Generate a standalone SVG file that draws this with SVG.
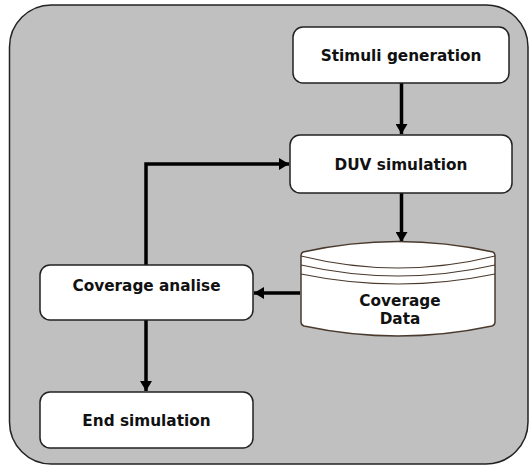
<svg xmlns="http://www.w3.org/2000/svg" width="529" height="466" viewBox="0 0 529 466">
<defs>
<marker id="ah" markerUnits="userSpaceOnUse" markerWidth="14" markerHeight="12" viewBox="0 0 12 12" refX="10" refY="6" orient="auto">
<path d="M0,0 L10,6 L0,12 Z" fill="#000"/>
</marker>
<style>
.box{fill:#fff;stroke:#222;stroke-width:1.5}
.t{font-family:"DejaVu Sans",Verdana,sans-serif;font-weight:bold;font-size:15.3px;fill:#111;text-anchor:middle}
.c{fill:none;stroke:#000;stroke-width:3.5;marker-end:url(#ah)}
.cyl{fill:#fff;stroke:#4a3a2e;stroke-width:1.5}
.cl{fill:none;stroke:#4a3a2e;stroke-width:1.2}
</style>
</defs>
<rect x="9.5" y="5" width="518.5" height="459" rx="42" ry="42" fill="#c0c0c0" stroke="#222" stroke-width="1.5"/>
<g id="connectors">
<path class="c" d="M401.5,83 V134"/>
<path class="c" d="M401.5,193 V242"/>
<path class="c" d="M300,293 H254"/>
<path class="c" d="M146,265 V164 H289"/>
<path class="c" d="M146,320 V391"/>
</g>
<g id="stimuli">
<rect class="box" x="293" y="27" width="216" height="56" rx="10"/>
<text class="t" x="401" y="60.5">Stimuli generation</text>
</g>
<g id="duv">
<rect class="box" x="290" y="135" width="222" height="58" rx="10"/>
<text class="t" x="401" y="169.5">DUV simulation</text>
</g>
<g id="coverage-data">
<path class="cyl" d="M301,256 Q301,253 303,252 Q398,231 493,252 Q495,253 495,256 V322 Q495,325 492,326 Q398,346 304,326 Q301,325 301,322 Z"/>
<path class="cl" d="M301,256 Q398,280 495,256"/>
<path class="cl" d="M301,265 Q398,287 495,265"/>
<path class="cl" d="M301,274 Q398,294 495,274"/>
<text class="t" x="400" y="305.5">Coverage</text>
<text class="t" x="400" y="323.5">Data</text>
</g>
<g id="coverage-analise">
<rect class="box" x="40" y="265" width="213" height="55" rx="10"/>
<text class="t" x="146.5" y="291">Coverage analise</text>
</g>
<g id="end">
<rect class="box" x="40" y="392" width="213" height="56" rx="10"/>
<text class="t" x="146.5" y="425.5">End simulation</text>
</g>
</svg>
